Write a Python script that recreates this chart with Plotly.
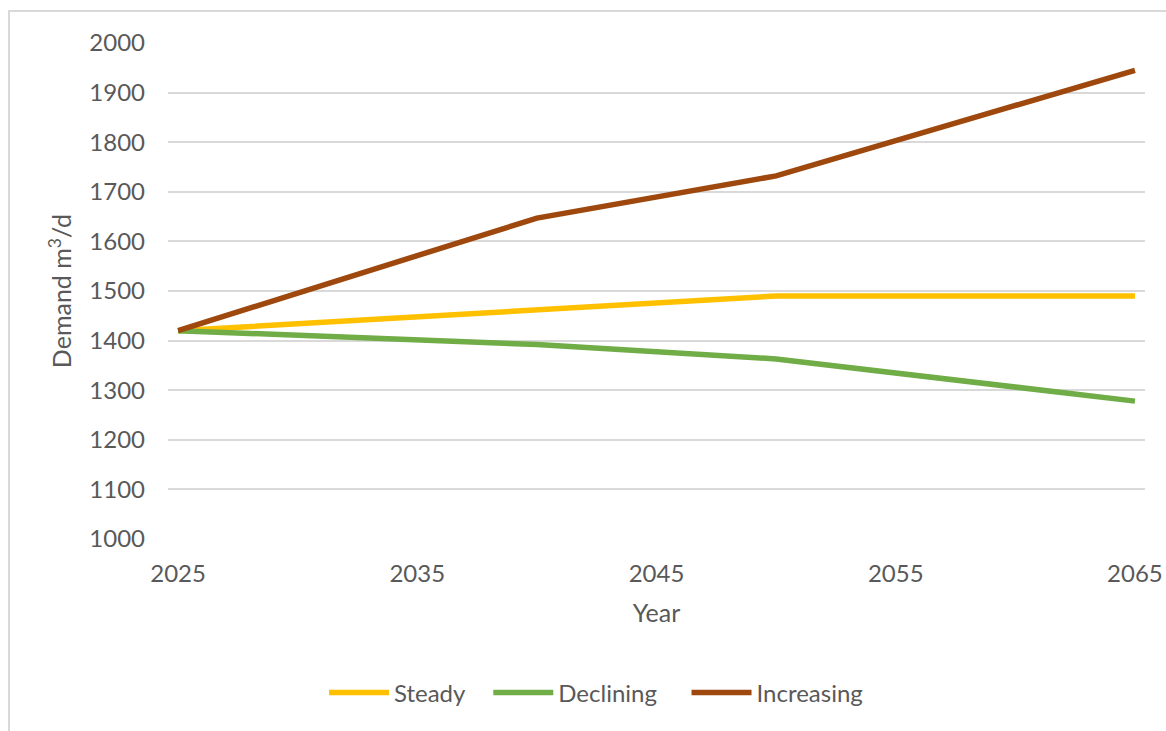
import plotly.graph_objects as go

# Projected water demand scenarios (m3/d)
years = [2025, 2040, 2050, 2065]
steady = [1420, 1462, 1490, 1490]
declining = [1420, 1392, 1363, 1278]
increasing = [1420, 1647, 1732, 1945]

series_names = ["Steady", "Declining", "Increasing"]
series_colors = ["#FFC000", "#70AD47", "#9E480E"]

x_ticks = [2025, 2035, 2045, 2055, 2065]
y_ticks = list(range(1000, 2001, 100))

FONT = "Lato, 'Open Sans', sans-serif"
TEXT = "#595959"
GRID = "#d9d9d9"

# trailing non-breaking spaces widen the gap after each legend entry
pad = ["\u00a0" * 3, "\u00a0" * 4, ""]

fig = go.Figure()
for name, vals, color, p in zip(series_names, [steady, declining, increasing],
                                series_colors, pad):
    fig.add_trace(go.Scatter(x=years, y=vals, name=name + p, mode="lines",
                             line=dict(color=color, width=5.5)))

W, H = 1166, 731
L, R, T, B = 168, 21, 43, 192
pw = W - L - R
ph = H - T - B

# chart-area outline (left and top edges visible)
fig.add_shape(type="rect", xref="paper", yref="paper",
              x0=(9 - L) / pw, x1=(1183 - L) / pw,
              y0=-(760 - T - ph) / ph, y1=1 + (T - 11) / ph,
              line=dict(color=GRID, width=2), fillcolor="rgba(0,0,0,0)",
              layer="below")

fig.update_layout(
    width=W, height=H,
    margin=dict(l=L, r=R, t=T, b=B, autoexpand=False),
    paper_bgcolor="white", plot_bgcolor="white",
    font=dict(family=FONT, size=24, color=TEXT),
    showlegend=True,
    legend=dict(orientation="h", x=(596 - L) / pw, xanchor="center",
                y=-(693 - T - ph) / ph, yanchor="middle",
                font=dict(size=24, color=TEXT), itemwidth=60,
                bgcolor="rgba(0,0,0,0)"),
    xaxis=dict(range=[2024.58, 2065.42], tickvals=x_ticks,
               showgrid=False, zeroline=False, showline=False,
               ticks="", ticklabelstandoff=18, automargin=False,
               title=dict(text="Year", standoff=18,
                          font=dict(size=25, color=TEXT)),
               tickfont=dict(size=24, color=TEXT)),
    yaxis=dict(range=[1000, 2000], tickvals=y_ticks,
               showgrid=True, gridcolor=GRID, gridwidth=2,
               zeroline=False, showline=False, ticks="",
               ticklabelstandoff=22, automargin=False,
               title=dict(text="Demand m<sup>3</sup>/d", standoff=10,
                          font=dict(size=25, color=TEXT)),
               tickfont=dict(size=24, color=TEXT)),
)

fig.write_html("out.html")
